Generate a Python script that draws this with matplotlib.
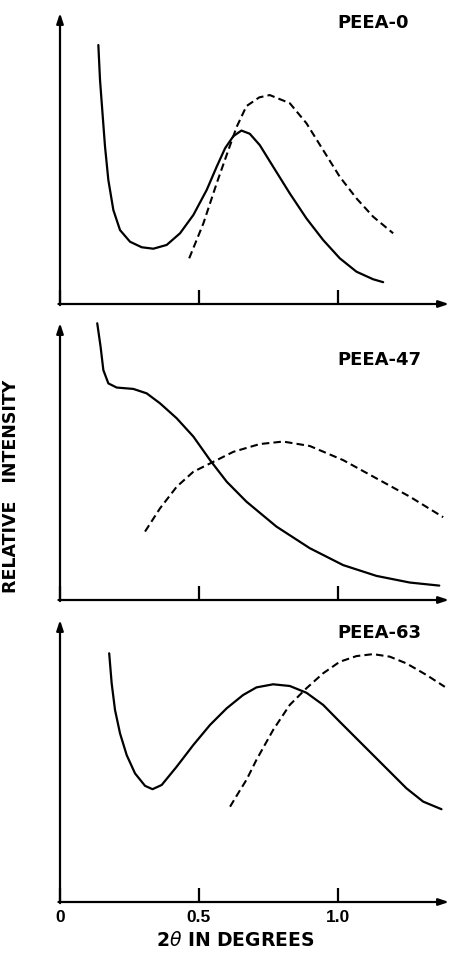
import matplotlib
matplotlib.use("Agg")
import matplotlib.pyplot as plt

plt.rcParams['font.family'] = ['DejaVu Sans']

# ---- data (x = 2theta in degrees, y = relative intensity, fraction of panel height) ----
p0_solid_x = [0.138, 0.144, 0.153, 0.162, 0.174, 0.192, 0.216, 0.252, 0.294, 0.336, 0.384, 0.432,
              0.480, 0.528, 0.564, 0.594, 0.624, 0.653, 0.683, 0.719, 0.767, 0.827, 0.887,
              0.947, 1.007, 1.067, 1.127, 1.163]
p0_solid_y = [0.890, 0.770, 0.655, 0.541, 0.426, 0.323, 0.254, 0.214, 0.195, 0.190, 0.203, 0.243,
              0.306, 0.392, 0.472, 0.535, 0.577, 0.596, 0.585, 0.546, 0.472, 0.380, 0.294,
              0.220, 0.157, 0.111, 0.085, 0.075]
p0_dash_x = [0.465, 0.516, 0.564, 0.606, 0.636, 0.671, 0.717, 0.755, 0.827, 0.887, 0.947, 1.007,
             1.067, 1.127, 1.199]
p0_dash_y = [0.157, 0.277, 0.415, 0.529, 0.609, 0.680, 0.710, 0.718, 0.690, 0.621, 0.529, 0.437,
             0.363, 0.300, 0.243]

p47_solid_x = [0.134, 0.146, 0.156, 0.174, 0.204, 0.264, 0.312, 0.360, 0.420, 0.480, 0.540, 0.600,
               0.671, 0.779, 0.899, 1.019, 1.139, 1.259, 1.365]
p47_solid_y = [0.999, 0.915, 0.830, 0.782, 0.767, 0.762, 0.746, 0.710, 0.656, 0.590, 0.505, 0.427,
               0.355, 0.265, 0.187, 0.126, 0.087, 0.063, 0.052]
p47_dash_x = [0.306, 0.360, 0.420, 0.480, 0.552, 0.624, 0.719, 0.803, 0.899, 1.019, 1.139, 1.259, 1.379]
p47_dash_y = [0.247, 0.331, 0.409, 0.463, 0.499, 0.535, 0.563, 0.572, 0.556, 0.505, 0.439, 0.373, 0.299]

p63_solid_x = [0.177, 0.186, 0.198, 0.216, 0.240, 0.270, 0.306, 0.333, 0.366, 0.420, 0.480, 0.540,
               0.600, 0.659, 0.707, 0.767, 0.827, 0.887, 0.947, 1.007, 1.067, 1.127, 1.187,
               1.247, 1.307, 1.373]
p63_solid_y = [0.882, 0.775, 0.681, 0.598, 0.521, 0.456, 0.412, 0.400, 0.415, 0.480, 0.557, 0.628,
               0.687, 0.734, 0.761, 0.772, 0.766, 0.742, 0.699, 0.639, 0.580, 0.521, 0.462,
               0.403, 0.356, 0.329]
p63_dash_x = [0.612, 0.647, 0.671, 0.707, 0.767, 0.827, 0.887, 0.947, 1.007, 1.067, 1.127, 1.187,
              1.247, 1.319, 1.385]
p63_dash_y = [0.338, 0.395, 0.433, 0.504, 0.610, 0.699, 0.758, 0.811, 0.852, 0.872, 0.879, 0.870,
              0.846, 0.805, 0.763]

labels = ["PEEA-0", "PEEA-47", "PEEA-63"]
label_y = [0.966, 0.866, 0.954]
xticks = [0, 0.5, 1.0]
xtick_labels = ["0", "0.5", "1.0"]

W, H = 449, 959
fig = plt.figure(figsize=(W / 100, H / 100), dpi=100)

# panel extents in pixels (top, bottom)
panels = [(13, 304), (323, 600), (620, 902)]
left_px, right_px = 60, 449

series = [
    (p0_solid_x, p0_solid_y, p0_dash_x, p0_dash_y),
    (p47_solid_x, p47_solid_y, p47_dash_x, p47_dash_y),
    (p63_solid_x, p63_solid_y, p63_dash_x, p63_dash_y),
]

for i, ((top, bot), (sx, sy, dx, dy)) in enumerate(zip(panels, series)):
    ax = fig.add_axes([left_px / W, 1 - bot / H, (right_px - left_px) / W, (bot - top) / H])
    ax.set_xlim(0, 1.4)
    ax.set_ylim(0, 1.0)
    ax.patch.set_alpha(0)
    for s in ax.spines.values():
        s.set_visible(False)
    ax.plot(sx, sy, color='black', lw=1.6, solid_capstyle='round', solid_joinstyle='round', clip_on=False)
    ax.plot(dx, dy, color='black', lw=1.5, ls=(0, (3.6, 2.0)), clip_on=False)
    # axes with arrows
    ax.annotate('', xy=(0, 1.0), xytext=(0, -0.004), xycoords='axes fraction',
                arrowprops=dict(arrowstyle='-|>,head_length=0.6,head_width=0.2', lw=1.6, color='black',
                                shrinkA=0, shrinkB=0))
    ax.annotate('', xy=(1.0, 0), xytext=(-0.004, 0), xycoords='axes fraction',
                arrowprops=dict(arrowstyle='-|>,head_length=0.6,head_width=0.2', lw=1.6, color='black',
                                shrinkA=0, shrinkB=0))
    ax.set_yticks([])
    ax.set_xticks(xticks)
    ax.tick_params(axis='x', direction='in', length=10, width=1.6, pad=6)
    if i == 2:
        ax.set_xticklabels(xtick_labels, fontsize=12.5, fontweight='bold', family='Liberation Sans')
    else:
        ax.set_xticklabels([])
    ax.text(1.0, label_y[i], labels[i], fontsize=13, fontweight='bold', ha='left', va='center')

fig.text(11 / W, 1 - 486 / H, "RELATIVE   INTENSITY", rotation=90, fontsize=12.5, fontweight='bold',
         ha='center', va='center')
fig.text(235 / W, 1 - 940 / H, r"2$\theta$ IN DEGREES", fontsize=13.5, fontweight='bold',
         ha='center', va='center')

fig.savefig("out.png", dpi=100)
